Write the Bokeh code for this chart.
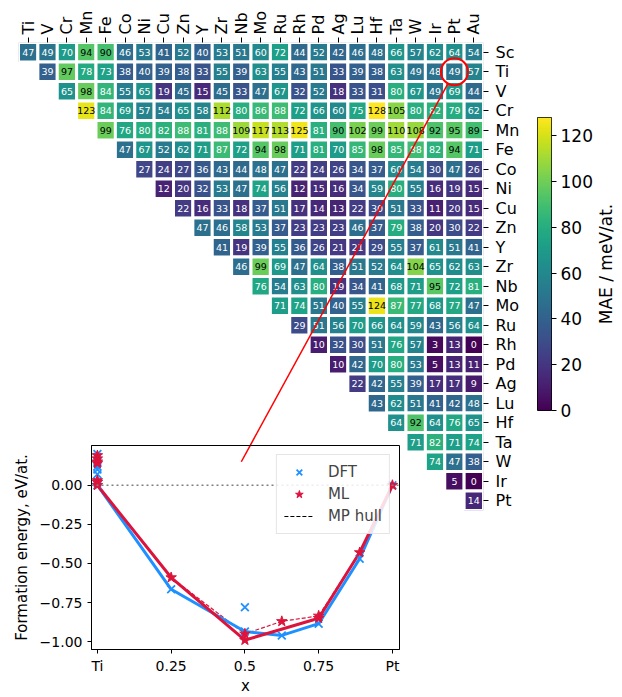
import math
import numpy as np
from bokeh.plotting import figure
from bokeh.layouts import column, row
from bokeh.core.properties import value
from bokeh.models import (ColumnDataSource, Range1d, FixedTicker, LinearColorMapper,
                          Legend, LegendItem, Span)
from bokeh.palettes import Viridis256
from bokeh.transform import transform
from bokeh.embed import file_html
from bokeh.resources import INLINE

FONT = "DejaVu Sans"

# ---- MAE of the ML model per binary system (meV/atom) ----
col_elements = ["Ti", "V", "Cr", "Mn", "Fe", "Co", "Ni", "Cu", "Zn", "Y", "Zr", "Nb",
                "Mo", "Ru", "Rh", "Pd", "Ag", "Lu", "Hf", "Ta", "W", "Ir", "Pt", "Au"]
row_elements = ["Sc", "Ti", "V", "Cr", "Mn", "Fe", "Co", "Ni", "Cu", "Zn", "Y", "Zr",
                "Nb", "Mo", "Ru", "Rh", "Pd", "Ag", "Lu", "Hf", "Ta", "W", "Ir", "Pt"]

mae_sc = [47, 49, 70, 94, 90, 46, 53, 41, 52, 40, 53, 51, 60, 72, 44, 52, 42, 46, 48, 66, 57, 62, 64, 54]
mae_ti = [39, 97, 78, 73, 38, 40, 39, 38, 33, 55, 39, 63, 55, 43, 51, 33, 39, 38, 63, 49, 48, 49, 57]
mae_v = [65, 98, 84, 55, 65, 19, 45, 15, 45, 33, 47, 67, 32, 52, 18, 33, 31, 80, 67, 49, 69, 44]
mae_cr = [123, 84, 69, 57, 54, 65, 58, 112, 80, 86, 88, 72, 66, 60, 75, 128, 105, 80, 82, 79, 62]
mae_mn = [99, 76, 80, 82, 88, 81, 88, 109, 117, 113, 125, 81, 90, 102, 99, 110, 108, 92, 95, 89]
mae_fe = [47, 67, 52, 62, 71, 87, 72, 94, 98, 71, 81, 70, 85, 98, 85, 88, 82, 94, 71]
mae_co = [27, 24, 27, 36, 43, 44, 48, 47, 22, 24, 26, 34, 37, 60, 54, 30, 47, 26]
mae_ni = [12, 20, 32, 53, 47, 74, 56, 12, 15, 16, 34, 59, 80, 55, 16, 19, 15]
mae_cu = [22, 16, 33, 18, 37, 51, 17, 14, 13, 22, 30, 51, 33, 11, 20, 15]
mae_zn = [47, 46, 58, 53, 37, 23, 23, 23, 46, 37, 79, 38, 20, 30, 22]
mae_y = [41, 19, 39, 55, 36, 26, 21, 21, 29, 55, 37, 61, 51, 41]
mae_zr = [46, 99, 69, 47, 64, 38, 51, 52, 64, 104, 65, 62, 63]
mae_nb = [76, 54, 63, 80, 19, 34, 41, 68, 71, 95, 72, 81]
mae_mo = [71, 74, 51, 40, 55, 124, 87, 77, 68, 77, 47]
mae_ru = [29, 51, 56, 70, 66, 64, 59, 43, 56, 64]
mae_rh = [10, 32, 30, 51, 76, 57, 3, 13, 0]
mae_pd = [10, 42, 70, 80, 53, 5, 13, 11]
mae_ag = [22, 42, 55, 39, 17, 17, 9]
mae_lu = [43, 62, 51, 41, 42, 48]
mae_hf = [64, 92, 64, 76, 65]
mae_ta = [71, 82, 71, 74]
mae_w = [74, 47, 38]
mae_ir = [5, 0]
mae_pt = [14]

mae_rows = [mae_sc, mae_ti, mae_v, mae_cr, mae_mn, mae_fe, mae_co, mae_ni, mae_cu, mae_zn,
            mae_y, mae_zr, mae_nb, mae_mo, mae_ru, mae_rh, mae_pd, mae_ag, mae_lu, mae_hf,
            mae_ta, mae_w, mae_ir, mae_pt]

# ---- Ti-Pt formation energies (eV/atom) ----
dft_x = [0, 0, 0, 0, 0, 0, 0, 0, 0.25, 0.5, 0.5, 0.625, 0.75, 0.889, 1.0]
dft_y = [0.20, 0.18, 0.15, 0.12, 0.10, 0.07, 0.02, 0.0, -0.665, -0.78, -0.935, -0.96, -0.885, -0.47, 0.0]
ml_x = [0, 0, 0, 0, 0, 0, 0, 0.25, 0.5, 0.5, 0.625, 0.75, 0.75, 0.889, 1.0]
ml_y = [0.19, 0.17, 0.15, 0.14, 0.03, 0.02, 0.0, -0.59, -0.95, -0.99, -0.87, -0.835, -0.85, -0.43, 0.0]
dft_hull_x = [0, 0.25, 0.5, 0.625, 0.75, 0.889, 1.0]
dft_hull_y = [0, -0.665, -0.935, -0.96, -0.885, -0.47, 0]
ml_hull_x = [0, 0.25, 0.5, 0.75, 0.889, 1.0]
ml_hull_y = [0, -0.59, -0.99, -0.85, -0.43, 0]
mp_hull_x = [0, 0.25, 0.5, 0.625, 0.75, 0.889, 1.0]
mp_hull_ml_y = [0, -0.59, -0.95, -0.87, -0.835, -0.43, 0]

VMIN, VMAX = 0, 128
BLUE = "#1E90FF"
RED = "#DC143C"

mapper = LinearColorMapper(palette=Viridis256, low=VMIN, high=VMAX)

# ---- heatmap ----
xs, ys, vals, txt, tcol = [], [], [], [], []
for i, vals_row in enumerate(mae_rows):
    start = len(col_elements) - len(vals_row)
    for k, v in enumerate(vals_row):
        xs.append(start + k)
        ys.append(i)
        vals.append(v)
        txt.append(str(v))
        tcol.append("black" if v > 88.5 else "white")
src = ColumnDataSource(dict(x=xs, y=ys, v=vals, t=txt, c=tcol))

p = figure(width=525, height=520, output_backend="svg", toolbar_location=None,
           x_range=Range1d(-0.5, 23.5), y_range=Range1d(23.5, -0.5),
           x_axis_location="above", y_axis_location="right",
           min_border_left=18, min_border_right=42, min_border_top=42, min_border_bottom=10)
p.frame_align = False
p.outline_line_color = None
p.grid.visible = False
p.background_fill_color = "white"

p.rect(x="x", y="y", width=1, height=1, source=src,
       fill_color=transform("v", mapper), line_color="white", line_width=3)
p.text(x="x", y="y", text="t", source=src, text_color="c", text_align="center",
       text_baseline="middle", text_font_size=value("9.5px"), text_font=value(FONT))

for ax, names in ((p.xaxis[0], col_elements), (p.yaxis[0], row_elements)):
    ax.ticker = FixedTicker(ticks=list(range(len(names))))
    ax.major_label_overrides = {i: n for i, n in enumerate(names)}
    ax.axis_line_color = None
    ax.major_tick_in = 0
    ax.major_tick_out = 5
    ax.major_tick_line_color = "black"
    ax.minor_tick_line_color = None
    ax.major_label_text_font = FONT
    ax.major_label_text_font_size = "16px"
    ax.major_label_text_color = "black"
p.xaxis[0].major_label_orientation = math.pi / 2
p.xaxis[0].major_label_standoff = 3
p.yaxis[0].major_label_standoff = 7

# highlight of the Ti-Pt system and its connector to the inset
hl_col = col_elements.index("Pt")
hl_row = row_elements.index("Ti")
p.scatter([hl_col], [hl_row], marker="circle", size=27, fill_alpha=0,
          line_color="red", line_width=2)
p.segment(x0=[hl_col - 0.35], y0=[hl_row + 0.63], x1=[11.0], y1=[21.0],
          line_color="red", line_width=1.5)

# ---- inset: formation energies ----
inset = figure(width=404, height=267, output_backend="svg", toolbar_location=None,
               x_range=Range1d(-0.02, 1.024), y_range=Range1d(-1.05, 0.254),
               min_border_left=91, min_border_right=5, min_border_top=15, min_border_bottom=43)
inset.frame_align = False
inset.background_fill_alpha = 0
inset.border_fill_alpha = 0
inset.outline_line_color = "black"
inset.outline_line_width = 1
inset.grid.visible = False
inset.margin = (-90, 0, 0, 0)

inset.add_layout(Span(location=0, dimension="width", line_color="gray",
                      line_dash="2 3", line_width=1.5))

inset.line(mp_hull_x, mp_hull_ml_y, line_color=RED, line_width=1.2, line_dash="4 2")
inset.line(dft_hull_x, dft_hull_y, line_color=BLUE, line_width=3)
inset.line(ml_hull_x, ml_hull_y, line_color=RED, line_width=3)
r_dft = inset.scatter(dft_x, dft_y, marker="x", size=11, line_color=BLUE, line_width=1.8)
r_ml = inset.scatter(ml_x, ml_y, marker="star", size=11, fill_color=RED, line_color=RED)
r_mp = inset.line([np.nan, np.nan], [np.nan, np.nan], line_color="black",
                  line_width=1.2, line_dash="4 2")

legend = Legend(items=[LegendItem(label="DFT", renderers=[r_dft]),
                       LegendItem(label="ML", renderers=[r_ml]),
                       LegendItem(label="MP hull", renderers=[r_mp])],
                location="top_right")
legend.label_text_font = FONT
legend.label_text_font_size = "15px"
legend.border_line_color = "#cccccc"
legend.background_fill_alpha = 0.85
legend.glyph_width = 30
legend.label_standoff = 14
legend.spacing = 2
legend.padding = 7
legend.margin = 9
inset.add_layout(legend)

inset.xaxis.ticker = FixedTicker(ticks=[0, 0.25, 0.5, 0.75, 1])
inset.xaxis.major_label_overrides = {0: "Ti", 0.25: "0.25", 0.5: "0.5", 0.75: "0.75", 1: "Pt"}
inset.yaxis.ticker = FixedTicker(ticks=[0, -0.25, -0.5, -0.75, -1])
inset.yaxis.major_label_overrides = {0: "0.00", -0.25: "\u22120.25", -0.5: "\u22120.50",
                                     -0.75: "\u22120.75", -1: "\u22121.00"}
inset.xaxis.axis_label = "x"
inset.yaxis.axis_label = "Formation energy, eV/at."
for ax in (inset.xaxis[0], inset.yaxis[0]):
    ax.axis_line_color = "black"
    ax.major_tick_in = 0
    ax.major_tick_out = 4
    ax.minor_tick_line_color = None
    ax.major_label_text_font = FONT
    ax.major_label_text_font_size = "14px"
    ax.major_label_text_color = "black"
    ax.axis_label_text_font = FONT
    ax.axis_label_text_font_size = "15px"
    ax.axis_label_text_font_style = "normal"
    ax.axis_label_text_color = "black"
inset.xaxis[0].major_label_standoff = 4
inset.xaxis[0].axis_label_standoff = 0
inset.yaxis[0].axis_label_standoff = 6

# ---- colour bar ----
cbar = figure(width=70, height=697, output_backend="svg", toolbar_location=None,
              x_range=Range1d(0, 1), y_range=Range1d(VMIN, VMAX),
              x_axis_location=None, y_axis_location="right",
              min_border_left=12, min_border_right=42, min_border_top=117, min_border_bottom=287)
cbar.frame_align = False
cbar.grid.visible = False
cbar.outline_line_color = "black"
cbar.outline_line_width = 1
grad = np.linspace(VMIN, VMAX, 256).reshape(256, 1)
cbar.image(image=[grad], x=0, y=VMIN, dw=1, dh=VMAX - VMIN, color_mapper=mapper)
cax = cbar.yaxis[0]
cax.ticker = FixedTicker(ticks=[0, 20, 40, 60, 80, 100, 120])
cax.axis_line_color = None
cax.major_tick_in = 0
cax.major_tick_out = 5
cax.minor_tick_line_color = None
cax.major_label_standoff = 4
cax.major_label_text_font = FONT
cax.major_label_text_font_size = "17px"
cax.major_label_text_color = "black"

# colour bar title, set vertically beside the tick labels
ctitle = figure(width=27, height=697, output_backend="svg", toolbar_location=None,
                x_range=Range1d(0, 1), y_range=Range1d(VMIN, VMAX),
                x_axis_location=None, y_axis_location=None,
                min_border_left=0, min_border_right=0, min_border_top=117, min_border_bottom=287)
ctitle.frame_align = False
ctitle.grid.visible = False
ctitle.outline_line_color = None
ctitle.text(x=[0.4], y=[(VMIN + VMAX) / 2], text=["MAE / meV/at."], angle=math.pi / 2,
            text_align="center", text_baseline="middle", text_font=value(FONT),
            text_font_size=value("17px"), text_color="black")

layout = row(column(p, inset), cbar, ctitle)

with open("out.html", "w") as f:
    f.write(file_html(layout, INLINE))
